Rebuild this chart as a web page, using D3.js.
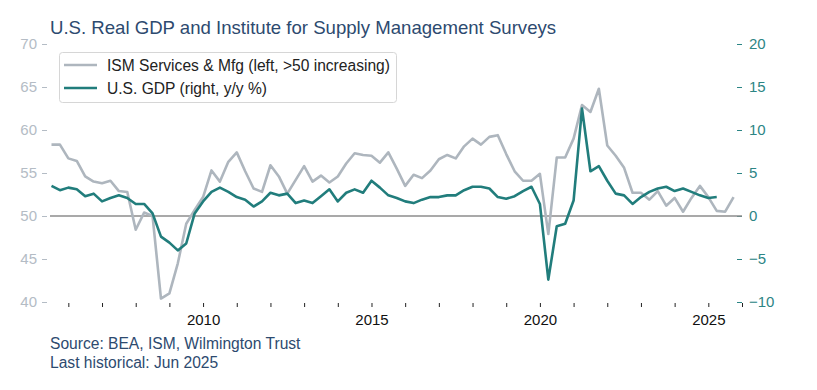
<!DOCTYPE html>
<meta charset="utf-8"/>
<head>
<style>
  body { margin:0; background:#fff; }
  text { font-family: "Liberation Sans", Arial, sans-serif; }
</style>
<script src="https://d3js.org/d3.v7.min.js" charset="utf-8"></script>
</head>
<body>
<script>
  // quarterly data, first point = 2005 Q3
  var startYear = 2005.5;
  var ismValues = [58.3, 58.3, 56.7, 56.4, 54.6, 54.0, 53.8, 54.1, 52.9, 52.8,
    48.4, 50.4, 50.0, 40.4, 41.0, 44.5, 49.1, 50.7, 52.2, 55.3,
    54.0, 56.3, 57.4, 55.2, 53.2, 52.8, 55.9, 54.6, 52.6, 54.2,
    55.8, 54.0, 54.7, 53.9, 54.6, 56.1, 57.3, 57.1, 57.0, 56.2,
    57.4, 55.5, 53.5, 54.8, 54.4, 55.3, 56.6, 57.1, 56.7, 58.1,
    59.0, 58.3, 59.2, 59.4, 57.2, 55.2, 54.1, 54.1, 54.9, 47.9,
    56.8, 56.8, 59.0, 62.9, 62.1, 64.8, 58.2, 57.0, 55.6, 52.7,
    52.7, 51.9, 52.9, 51.2, 52.1, 50.5, 52.1, 53.5, 52.2, 50.6,
    50.5, 52.2];
  var gdpValues = [3.5, 3.0, 3.3, 3.1, 2.3, 2.6, 1.7, 2.1, 2.4, 2.1,
    1.4, 1.4, 0.3, -2.4, -3.1, -4.0, -3.2, 0.3, 1.7, 2.8,
    3.3, 2.8, 2.2, 1.9, 1.1, 1.7, 2.7, 2.4, 2.6, 1.5,
    1.8, 1.5, 2.3, 3.1, 1.7, 2.7, 3.1, 2.7, 4.1, 3.3,
    2.4, 2.1, 1.7, 1.5, 1.9, 2.2, 2.2, 2.4, 2.4, 3.0,
    3.4, 3.4, 3.2, 2.2, 2.0, 2.3, 2.9, 3.4, 1.4, -7.4,
    -1.2, -0.9, 1.8, 12.5, 5.2, 5.8, 4.1, 2.6, 2.4, 1.4,
    2.2, 2.8, 3.2, 3.4, 2.9, 3.2, 2.8, 2.4, 2.1, 2.2];
  var leftTicks = [40, 45, 50, 55, 60, 65, 70];
  var rightTicks = [-10, -5, 0, 5, 10, 15, 20];
  var yearTicks = d3.range(2006, 2027);
  var yearLabels = [2010, 2015, 2020, 2025];

  var width = 817, height = 390;
  var svg = d3.select("body").append("svg")
    .attr("width", width)
    .attr("height", height);

  var x = d3.scaleLinear().domain([2005.5, 2026]).range([51.5, 742]);
  var yL = d3.scaleLinear().domain([40, 70]).range([302, 44]);
  var yR = d3.scaleLinear().domain([-10, 20]).range([302, 44]);

  var qTime = function(i) { return startYear + i * 0.25; };

  // title
  svg.append("text")
    .attr("x", 50).attr("y", 34)
    .attr("font-size", 18.6)
    .attr("fill", "#2d4a6f")
    .text("U.S. Real GDP and Institute for Supply Management Surveys");

  // left axis
  var gL = svg.append("g").attr("transform", "translate(47,0)")
    .call(d3.axisLeft(yL).tickValues(leftTicks).tickSize(5).tickPadding(5));
  gL.select(".domain").remove();
  gL.selectAll("line").attr("stroke", "#b4bcc5");
  gL.selectAll("text").attr("fill", "#b4bcc5").attr("font-size", 15)
    .attr("font-family", "Liberation Sans, Arial, sans-serif");

  // right axis
  var gR = svg.append("g").attr("transform", "translate(737,0)")
    .call(d3.axisRight(yR).tickValues(rightTicks).tickSize(5).tickPadding(7)
      .tickFormat(function(d) { return d < 0 ? "\u2212" + Math.abs(d) : d; }));
  gR.select(".domain").remove();
  gR.selectAll("line").attr("stroke", "#2c8585");
  gR.selectAll("text").attr("fill", "#2c8585").attr("font-size", 15)
    .attr("font-family", "Liberation Sans, Arial, sans-serif");

  // bottom axis
  var gX = svg.append("g").attr("transform", "translate(0,303)")
    .call(d3.axisBottom(x).tickValues(yearTicks).tickSize(4).tickPadding(7)
      .tickFormat(function(d) { return yearLabels.indexOf(d) >= 0 ? d : ""; }));
  gX.select(".domain").remove();
  gX.selectAll("line").attr("stroke", "#222");
  gX.selectAll("text").attr("fill", "#111").attr("font-size", 15)
    .attr("font-family", "Liberation Sans, Arial, sans-serif");

  // zero line
  svg.append("line")
    .attr("x1", 50).attr("x2", 742)
    .attr("y1", yR(0)).attr("y2", yR(0))
    .attr("stroke", "#8c8c8c").attr("stroke-width", 1.5);

  var ismLine = d3.line()
    .x(function(d, i) { return x(qTime(i)); })
    .y(function(d) { return yL(d); });
  var gdpLine = d3.line()
    .x(function(d, i) { return x(qTime(i)); })
    .y(function(d) { return yR(d); });

  svg.append("path").datum(ismValues)
    .attr("d", ismLine)
    .attr("fill", "none")
    .attr("stroke", "#aeb6be")
    .attr("stroke-width", 2.6)
    .attr("stroke-linejoin", "round");

  svg.append("path").datum(gdpValues)
    .attr("d", gdpLine)
    .attr("fill", "none")
    .attr("stroke", "#217d7c")
    .attr("stroke-width", 2.6)
    .attr("stroke-linejoin", "round");

  // legend
  var legend = svg.append("g");
  legend.append("rect")
    .attr("x", 59.5).attr("y", 52.5).attr("width", 337).attr("height", 50)
    .attr("rx", 3)
    .attr("fill", "#fff").attr("stroke", "#d6d6d6");
  var items = [
    {label: "ISM Services & Mfg (left, >50 increasing)", color: "#aeb6be"},
    {label: "U.S. GDP (right, y/y %)", color: "#217d7c"}
  ];
  items.forEach(function(it, i) {
    var cy = 65 + i * 23;
    legend.append("line")
      .attr("x1", 64).attr("x2", 97).attr("y1", cy).attr("y2", cy)
      .attr("stroke", it.color).attr("stroke-width", 2.6);
    legend.append("text")
      .attr("x", 107).attr("y", cy + 5.5)
      .attr("font-size", 15.6)
      .attr("fill", "#222")
      .text(it.label);
  });

  // source
  svg.append("text")
    .attr("x", 50).attr("y", 349)
    .attr("font-size", 15.6)
    .attr("fill", "#2d4a6f")
    .text("Source: BEA, ISM, Wilmington Trust");
  svg.append("text")
    .attr("x", 50).attr("y", 368)
    .attr("font-size", 15.6)
    .attr("fill", "#2d4a6f")
    .text("Last historical: Jun 2025");
</script>
</body>
